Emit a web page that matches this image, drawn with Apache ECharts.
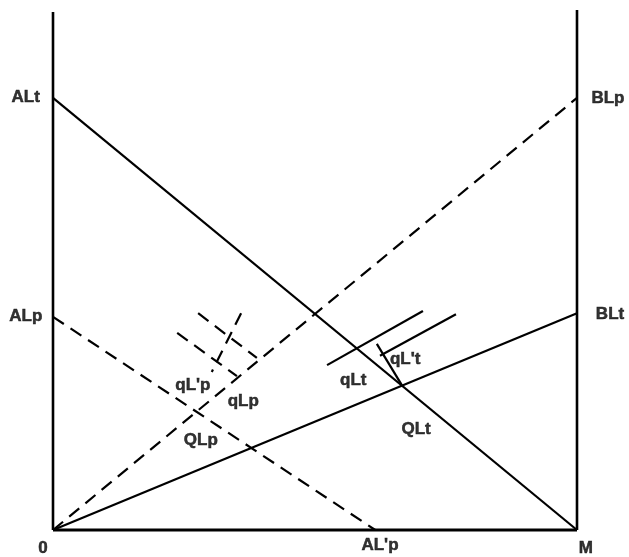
<!DOCTYPE html>
<html>
<head>
<meta charset="utf-8">
<script src="https://cdn.jsdelivr.net/npm/echarts@6/dist/echarts.min.js"></script>
<style>
  html, body { margin: 0; padding: 0; background: #fff; }
  #main { width: 629px; height: 557px; }
</style>
</head>
<body>
<div id="main"></div>
<script>
// units: 0 -> M = 10 on x, height of the box ~10 on y
var frameLeft = [[0, 0], [0, 9.96]];
var frameRight = [[10, 0], [10, 10]];
var frameBottom = [[0, 0], [10, 0]];

// solid lines
var lineALt = [[0, 8.31], [10, 0]];
var lineBLt = [[0, 0], [10, 4.17]];
var qLtA = [[5.23, 3.17], [7.06, 4.21]];
var qLtB = [[6.24, 3.35], [7.69, 4.15]];
var qLprimeT = [[6.18, 3.58], [6.66, 2.78]];

// dashed lines
var lineBLp = [[0, 0], [10, 8.31]];
var lineALp = [[0, 4.10], [6.15, 0]];
var qLpA = [[2.77, 4.17], [3.89, 3.31]];
var qLpB = [[2.37, 3.79], [3.51, 2.96]];
var qLprimeP = [[3.59, 4.17], [3.03, 3.04]];

// text labels
var labelText = ['ALt', 'ALp', 'BLp', 'BLt', '0', "AL'p", 'M',
                 "qL'p", 'qLp', 'QLp', 'qLt', "qL't", 'QLt'];
var labelX = [-0.52, -0.52, 10.59, 10.63, -0.19, 6.24, 10.17,
              2.67, 3.63, 2.82, 5.73, 6.72, 6.93];
var labelY = [8.33, 4.10, 8.31, 4.14, -0.35, -0.29, -0.35,
              2.79, 2.48, 1.73, 2.88, 3.29, 1.94];

var chart = echarts.init(document.getElementById('main'));

function seg(data, dashed, width) {
    return {
        type: 'line',
        data: data,
        showSymbol: false,
        symbol: 'none',
        silent: true,
        clip: false,
        animation: false,
        lineStyle: {
            color: '#000',
            width: width || 2.2,
            type: dashed ? [13, 8] : 'solid',
            cap: 'butt'
        }
    };
}

var labelData = labelText.map(function (t, i) {
    return { value: [labelX[i], labelY[i]], name: t };
});

var option = {
    backgroundColor: '#fff',
    animation: false,
    grid: { left: 53, right: 52, top: 10, bottom: 27 },
    xAxis: { type: 'value', min: 0, max: 10, show: false },
    yAxis: { type: 'value', min: 0, max: 10, show: false },
    series: [
        seg(frameLeft, false, 2.6),
        seg(frameRight, false, 2.6),
        seg(frameBottom, false, 2.8),
        seg(lineALt, false),
        seg(lineBLt, false),
        seg(qLtA, false),
        seg(qLtB, false),
        seg(qLprimeT, false),
        seg(lineBLp, true),
        seg(lineALp, true),
        seg(qLpA, true),
        seg(qLpB, true),
        seg(qLprimeP, true),
        {
            type: 'scatter',
            data: labelData,
            symbolSize: 0,
            clip: false,
            silent: true,
            label: {
                show: true,
                position: 'inside',
                formatter: '{b}',
                color: '#000',
                textBorderColor: '#000',
                textBorderWidth: 0.5,
                fontFamily: 'Liberation Sans',
                fontWeight: 'bold',
                fontSize: 17
            }
        }
    ]
};

chart.setOption(option);
</script>
</body>
</html>
